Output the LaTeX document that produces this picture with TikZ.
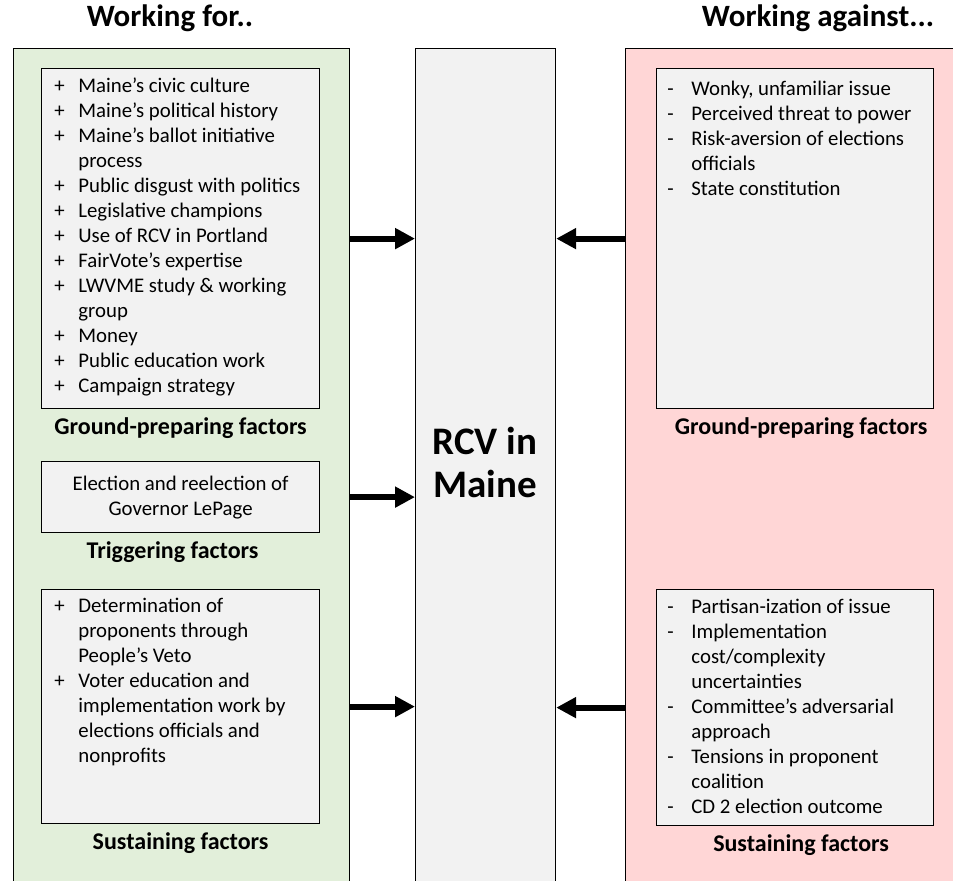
\documentclass[tikz,border=0pt]{standalone}
\usepackage{fontspec}
\setmainfont{Carlito}
\usepackage{xcolor}
\usetikzlibrary{positioning,arrows.meta}

\definecolor{forgreen}{HTML}{E2EFDA}
\definecolor{againstpink}{HTML}{FFD6D6}
\definecolor{boxgray}{HTML}{F2F2F2}

\newcommand{\itm}[1]{\makebox[12pt][l]{#1}}

\begin{document}
\begin{tikzpicture}[
  x=0.5pt, y=-0.5pt,
  node distance=4pt,
  panel/.style={draw, line width=0.6pt, anchor=north west, inner sep=0pt, minimum height=421pt},
  inbox/.style={draw, line width=0.6pt, fill=boxgray, anchor=north west, minimum width=139pt, inner sep=0pt, align=center, font=\fontsize{10.4}{12.5}\selectfont},
  lst/.style={anchor=base west, inner sep=0pt, font=\fontsize{10.4}{12.5}\selectfont},
  lbl/.style={inner sep=0pt, font=\bfseries\fontsize{12}{14}\selectfont},
  head/.style={font=\bfseries\fontsize{15.5}{18}\selectfont},
  push/.style={line width=3pt, -{Triangle[length=10pt,width=10pt]}}
]
\clip (0,0) rectangle (953,880);

% columns
\node[panel, fill=forgreen, minimum width=168pt] (forpanel) at (13,48) {};
\node[panel, fill=boxgray, minimum width=70pt] (rcv) at (415,48) {};
\node[panel, fill=againstpink, minimum width=170pt] (agpanel) at (625,48) {};

\node[head] (forhead) at (170,18) {Working for..};
\node[head] (aghead) at (818,18) {Working against...};
\node[align=center, font=\bfseries\fontsize{19.5}{21.5}\selectfont] (rcvtxt) at (485,462) {RCV in\\Maine};

% working for
\node[inbox, minimum height=170pt] (forgp) at (41,68) {};
\node[lst] (forgplist) at (54,92) {\begin{tabular}[t]{@{}l@{}}
\itm{+}Maine’s civic culture\\
\itm{+}Maine’s political history\\
\itm{+}Maine’s ballot initiative\\
\itm{}process\\
\itm{+}Public disgust with politics\\
\itm{+}Legislative champions\\
\itm{+}Use of RCV in Portland\\
\itm{+}FairVote’s expertise\\
\itm{+}LWVME study \& working\\
\itm{}group\\
\itm{+}Money\\
\itm{+}Public education work\\
\itm{+}Campaign strategy
\end{tabular}};
\node[lbl, below=of forgp] (forgplbl) {Ground-preparing factors};

\node[inbox, minimum height=35.5pt] (fortrig) at (41,461) {Election and reelection of\\Governor LePage};
\node[lbl, below=of fortrig, xshift=-4pt] (fortriglbl) {Triggering factors};

\node[inbox, minimum height=117pt] (forsus) at (41,589) {};
\node[lst] (forsuslist) at (54,612) {\begin{tabular}[t]{@{}l@{}}
\itm{+}Determination of\\
\itm{}proponents through\\
\itm{}People’s Veto\\
\itm{+}Voter education and\\
\itm{}implementation work by\\
\itm{}elections officials and\\
\itm{}nonprofits
\end{tabular}};
\node[lbl, below=of forsus] (forsuslbl) {Sustaining factors};

% working against
\node[inbox, minimum height=170pt, minimum width=138.5pt] (aggp) at (656,68) {};
\node[lst] (aggplist) at (667,95) {\begin{tabular}[t]{@{}l@{}}
\itm{-}Wonky, unfamiliar issue\\
\itm{-}Perceived threat to power\\
\itm{-}Risk-aversion of elections\\
\itm{}officials\\
\itm{-}State constitution
\end{tabular}};
\node[lbl, below=of aggp, xshift=3pt] (aggplbl) {Ground-preparing factors};

\node[inbox, minimum height=118pt, minimum width=138.5pt] (agsus) at (656,589) {};
\node[lst] (agsuslist) at (667,613) {\begin{tabular}[t]{@{}l@{}}
\itm{-}Partisan-ization of issue\\
\itm{-}Implementation\\
\itm{}cost/complexity\\
\itm{}uncertainties\\
\itm{-}Committee’s adversarial\\
\itm{}approach\\
\itm{-}Tensions in proponent\\
\itm{}coalition\\
\itm{-}CD 2 election outcome
\end{tabular}};
\node[lbl, below=of agsus, xshift=3pt] (agsuslbl) {Sustaining factors};

% influences
\draw[push] (forgp -| forpanel.east) -- (forgp -| rcv.west);
\draw[push] (fortrig -| forpanel.east) -- (fortrig -| rcv.west);
\draw[push] (forsus -| forpanel.east) -- (forsus -| rcv.west);
\draw[push] (aggp -| agpanel.west) -- (aggp -| rcv.east);
\draw[push] (agsus -| agpanel.west) -- (agsus -| rcv.east);
\end{tikzpicture}
\end{document}
